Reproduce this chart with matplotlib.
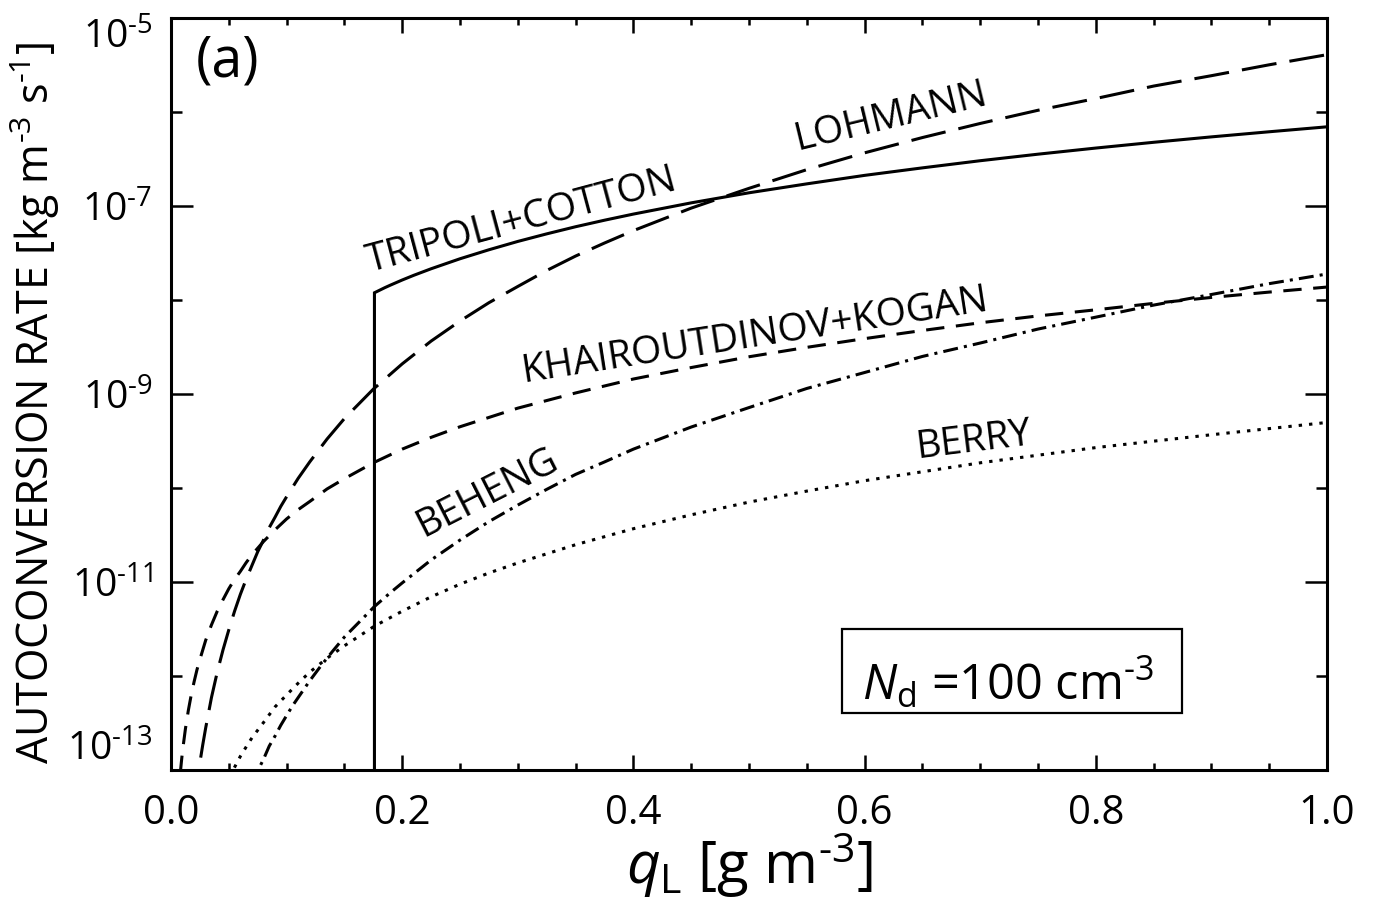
import matplotlib
matplotlib.use("Agg")
import matplotlib.pyplot as plt
import matplotlib.ticker as mticker
from matplotlib.patches import Rectangle

plt.rcParams['font.family'] = ['Open Sans', 'DejaVu Sans']
plt.rcParams['mathtext.fontset'] = 'custom'
plt.rcParams['mathtext.rm'] = 'Open Sans'
plt.rcParams['mathtext.it'] = 'Open Sans:italic'
plt.rcParams['mathtext.bf'] = 'Open Sans:bold'
plt.rcParams['mathtext.sf'] = 'Open Sans'
plt.rcParams['mathtext.default'] = 'regular'

# ---------------- data ----------------
# liquid water content q_L [g m^-3] and autoconversion rate [kg m^-3 s^-1]
tripoli_q = [0.176, 0.176, 0.185, 0.19, 0.20, 0.21, 0.225, 0.25, 0.275, 0.30, 0.325, 0.35,
             0.375, 0.40, 0.45, 0.50, 0.55, 0.60, 0.65, 0.70, 0.75, 0.80, 0.85, 0.90, 0.95, 1.00]
tripoli_rate = [1e-14, 1.2e-8, 1.36e-8, 1.45e-8, 1.64e-8, 1.84e-8, 2.16e-8, 2.76e-8, 3.44e-8,
                4.22e-8, 5.08e-8, 6.05e-8, 7.1e-8, 8.25e-8, 1.086e-7, 1.39e-7, 1.73e-7, 2.13e-7,
                2.56e-7, 3.05e-7, 3.58e-7, 4.16e-7, 4.79e-7, 5.47e-7, 6.2e-7, 7.0e-7]

lohmann_q = [0.020, 0.0225, 0.025, 0.0275, 0.03, 0.035, 0.04, 0.045, 0.05, 0.055, 0.06, 0.065,
             0.07, 0.075, 0.08, 0.085, 0.09, 0.095, 0.10, 0.11, 0.12, 0.135, 0.15, 0.175, 0.20,
             0.225, 0.25, 0.275, 0.30, 0.325, 0.35, 0.375, 0.40, 0.45, 0.50, 0.55, 0.60, 0.65,
             0.70, 0.75, 0.80, 0.85, 0.90, 0.95, 1.00]
lohmann_rate = [4.2e-14, 7.4e-14, 1.2e-13, 1.86e-13, 2.8e-13, 5.9e-13, 1.1e-12, 1.9e-12, 3.1e-12,
                4.9e-12, 7.4e-12, 1.07e-11, 1.5e-11, 2.1e-11, 2.8e-11, 3.8e-11, 4.9e-11, 6.4e-11,
                8.1e-11, 1.27e-10, 1.9e-10, 3.33e-10, 5.5e-10, 1.13e-9, 2.1e-9, 3.67e-9, 6.0e-9,
                9.4e-9, 1.4e-8, 2.07e-8, 2.95e-8, 4.06e-8, 5.5e-8, 9.55e-8, 1.55e-7, 2.45e-7,
                3.7e-7, 5.38e-7, 7.6e-7, 1.05e-6, 1.4e-6, 1.9e-6, 2.45e-6, 3.2e-6, 4.1e-6]

kk_q = [0.008, 0.009, 0.010, 0.0125, 0.015, 0.0175, 0.02, 0.0225, 0.025, 0.03, 0.035, 0.04,
        0.045, 0.05, 0.055, 0.06, 0.065, 0.07, 0.08, 0.09, 0.10, 0.11, 0.12, 0.135, 0.15, 0.175,
        0.20, 0.225, 0.25, 0.30, 0.35, 0.40, 0.45, 0.50, 0.55, 0.60, 0.65, 0.70, 0.75, 0.80,
        0.85, 0.90, 0.95, 1.00]
kk_rate = [9.1e-14, 1.22e-13, 1.6e-13, 2.75e-13, 4.3e-13, 6.3e-13, 8.7e-13, 1.17e-12, 1.5e-12,
           2.4e-12, 3.5e-12, 4.9e-12, 6.5e-12, 8.5e-12, 1.07e-11, 1.3e-11, 1.61e-11, 1.95e-11,
           2.7e-11, 3.6e-11, 4.7e-11, 5.9e-11, 7.2e-11, 9.8e-11, 1.26e-10, 1.86e-10, 2.6e-10,
           3.47e-10, 4.5e-10, 7.1e-10, 1.03e-9, 1.45e-9, 1.92e-9, 2.5e-9, 3.15e-9, 3.9e-9,
           4.76e-9, 5.75e-9, 6.8e-9, 7.9e-9, 9.25e-9, 1.07e-8, 1.22e-8, 1.38e-8]

beheng_q = [0.070, 0.075, 0.08, 0.085, 0.09, 0.095, 0.10, 0.105, 0.11, 0.12, 0.13, 0.14, 0.15,
            0.165, 0.176, 0.19, 0.20, 0.225, 0.25, 0.275, 0.30, 0.325, 0.35, 0.375, 0.40, 0.45,
            0.50, 0.55, 0.60, 0.65, 0.70, 0.75, 0.80, 0.85, 0.90, 0.95, 1.00]
beheng_rate = [7.1e-14, 9.8e-14, 1.3e-13, 1.8e-13, 2.3e-13, 3.0e-13, 3.8e-13, 4.8e-13, 5.9e-13,
               8.9e-13, 1.3e-12, 1.85e-12, 2.6e-12, 4.0e-12, 5.5e-12, 7.76e-12, 9.8e-12, 1.72e-11,
               2.8e-11, 4.4e-11, 6.6e-11, 9.7e-11, 1.4e-10, 1.9e-10, 2.6e-10, 4.47e-10, 7.2e-10,
               1.15e-9, 1.7e-9, 2.52e-9, 3.5e-9, 4.93e-9, 6.6e-9, 8.87e-9, 1.15e-8, 1.5e-8, 1.9e-8]

berry_q = [0.040, 0.045, 0.05, 0.055, 0.06, 0.065, 0.07, 0.08, 0.09, 0.10, 0.11, 0.12, 0.135,
           0.15, 0.176, 0.20, 0.225, 0.25, 0.275, 0.30, 0.35, 0.40, 0.45, 0.50, 0.55, 0.60, 0.70,
           0.80, 0.90, 1.00]
berry_rate = [4.2e-14, 5.9e-14, 8.1e-14, 1.07e-13, 1.4e-13, 1.76e-13, 2.2e-13, 3.2e-13, 4.7e-13,
              6.3e-13, 8.4e-13, 1.1e-12, 1.55e-12, 2.1e-12, 3.4e-12, 4.9e-12, 6.97e-12, 9.5e-12,
              1.25e-11, 1.6e-11, 2.5e-11, 3.7e-11, 5.2e-11, 7.1e-11, 9.3e-11, 1.2e-10, 1.86e-10,
              2.7e-10, 3.7e-10, 5.0e-10]

curve_names = ['TRIPOLI+COTTON', 'LOHMANN', 'KHAIROUTDINOV+KOGAN', 'BEHENG', 'BERRY']
label_q = [0.3036, 0.6228, 0.5052, 0.2734, 0.6946]
label_rate = [7.0e-8, 8.9e-7, 4.2e-9, 8.8e-11, 3.2e-10]
label_angle = [15, 13.6, 8.8, 27, 7]

x_ticks = [0.0, 0.2, 0.4, 0.6, 0.8, 1.0]
x_tick_labels = ['0.0', '0.2', '0.4', '0.6', '0.8', '1.0']
x_minor = [0.05, 0.10, 0.15, 0.25, 0.30, 0.35, 0.45, 0.50, 0.55, 0.65, 0.70, 0.75, 0.85, 0.90, 0.95]
y_ticks = [1e-13, 1e-11, 1e-9, 1e-7, 1e-5]
y_tick_labels = [r'$10^{\text{-}13}$', r'$10^{\text{-}11}$', r'$10^{\text{-}9}$',
                 r'$10^{\text{-}7}$', r'$10^{\text{-}5}$']
y_minor = [1e-12, 1e-10, 1e-8, 1e-6]

# ---------------- figure ----------------
fig = plt.figure(figsize=(13.8, 9.1), dpi=100)
ax = fig.add_axes([0.1239, 0.1538, 0.8377, 0.8261])

lw = 2.2
ax.plot(tripoli_q, tripoli_rate, color='black', lw=lw, solid_joinstyle='miter')
ax.plot(lohmann_q, lohmann_rate, color='black', lw=lw, dashes=(11.5, 4.3))
ax.plot(kk_q, kk_rate, color='black', lw=lw, dashes=(6.0, 3.8))
ax.plot(beheng_q, beheng_rate, color='black', lw=lw, dashes=(4.9, 2.0, 1.0, 2.0))
ax.plot(berry_q, berry_rate, color='black', lw=lw, dashes=(1.1, 2.3))

ax.set_yscale('log')
ax.set_xlim(0.0, 1.0)
ax.set_ylim(1e-13, 1e-5)

ax.set_xticks(x_ticks, x_tick_labels)
ax.set_xticks(x_minor, minor=True)
ax.set_yticks(y_ticks, y_tick_labels)
ax.set_yticks(y_minor, minor=True)
ax.yaxis.set_minor_formatter(mticker.NullFormatter())
ax.xaxis.set_minor_formatter(mticker.NullFormatter())

for s in ax.spines.values():
    s.set_linewidth(2.2)

ax.tick_params(which='both', direction='in', top=True, right=True, width=1.8, color='black')
ax.tick_params(axis='x', which='major', length=10.8, pad=17, labelsize=29)
ax.tick_params(axis='x', which='minor', length=5.0)
ax.tick_params(axis='y', which='major', length=15.8, pad=13.5, labelsize=28)
ax.tick_params(axis='y', which='minor', length=8.0)

ylabs = ax.get_yticklabels()
ylabs[0].set_va('bottom')
ylabs[-1].set_va('top')

ax.set_ylabel(r'AUTOCONVERSION RATE [kg m$^{\text{-}3}$ s$^{\text{-}1}$]', fontsize=31,
              ha='center', va='center')
ax.yaxis.set_label_coords(-0.1176, 0.488)
ax.set_xlabel(r'$\mathit{q}_{\mathrm{L}}$ [g m$^{\text{-}3}$]', fontsize=42, va='baseline')
ax.xaxis.set_label_coords(0.5, -0.1516)

for name, q, r, ang in zip(curve_names, label_q, label_rate, label_angle):
    ax.text(q, r, name, rotation=ang, rotation_mode='anchor', ha='center', va='center',
            fontsize=28)

ax.text(0.0493, 0.9415, '(a)', transform=ax.transAxes, ha='center', va='center', fontsize=40)

ax.add_patch(Rectangle((0.5804, 0.0758), 0.8746 - 0.5804, 0.1875 - 0.0758,
                       transform=ax.transAxes, fill=False, edgecolor='black', lw=1.6))
ax.text(0.5978, 0.0931, r'$\mathit{N}_{\mathrm{d}}$ =100 cm$^{\text{-}3}$', transform=ax.transAxes,
        ha='left', va='baseline', fontsize=35)

fig.savefig('out.png', dpi=100)
